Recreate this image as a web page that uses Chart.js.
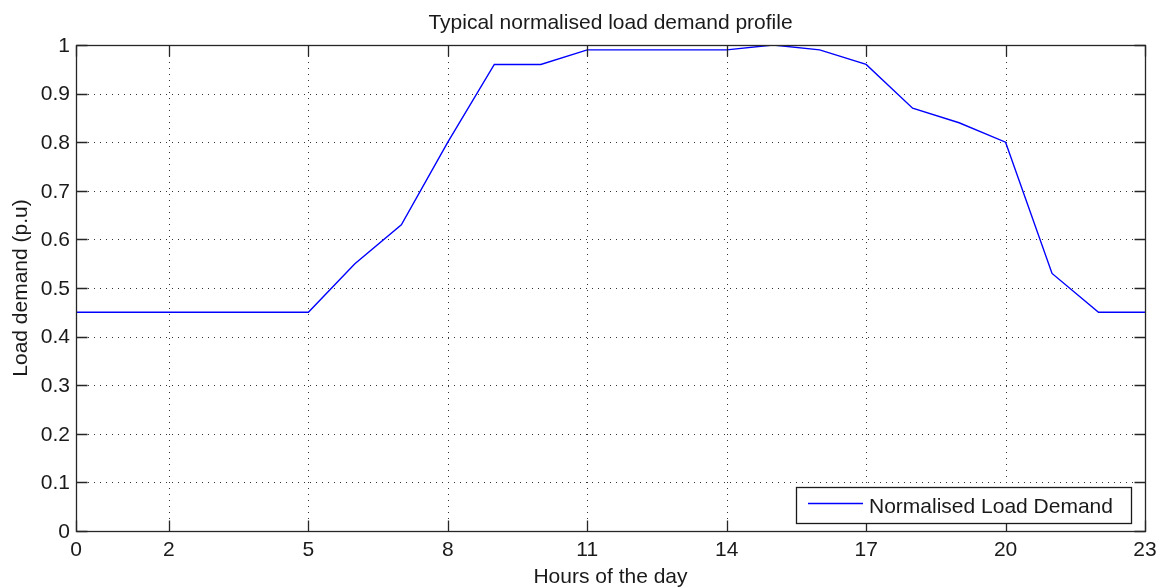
<!DOCTYPE html>
<html>
<head>
<meta charset="utf-8">
<title>Typical normalised load demand profile</title>
<script src="https://cdn.jsdelivr.net/npm/chart.js@4.4.1/dist/chart.umd.min.js"></script>
<style>
  html, body { margin: 0; padding: 0; background: #fff; }
  #wrap { width: 1162px; height: 588px; }
</style>
</head>
<body>
<div id="wrap"><canvas id="chart" width="1162" height="588"></canvas></div>
<script>
// Hour of the day and the normalised load demand (per unit) at each hour
const hours = [0, 1, 2, 3, 4, 5, 6, 7, 8, 9, 10, 11, 12, 13, 14, 15, 16, 17, 18, 19, 20, 21, 22, 23];
const loadDemand = [0.45, 0.45, 0.45, 0.45, 0.45, 0.45, 0.55, 0.63, 0.80, 0.96, 0.96, 0.99,
                    0.99, 0.99, 0.99, 1.00, 0.99, 0.96, 0.87, 0.84, 0.80, 0.53, 0.45, 0.45];
const xTickValues = [0, 2, 5, 8, 11, 14, 17, 20, 23];
const yTickValues = [0, 0.1, 0.2, 0.3, 0.4, 0.5, 0.6, 0.7, 0.8, 0.9, 1];

const chartTitle = 'Typical normalised load demand profile';
const xTitle = 'Hours of the day';
const yTitle = 'Load demand (p.u)';
const seriesName = 'Normalised Load Demand';

const FONT = '21px "Liberation Sans", Arial, Helvetica, sans-serif';
const TEXT = '#1a1a1a';
const LINE_BLUE = '#0000ff';

function fmtY(v) {
  const r = Math.round(v * 10) / 10;
  return r === 0 ? '0' : r === 1 ? '1' : String(r);
}

// MATLAB-style axes: dotted grid, boxed frame, inward ticks, labels and an in-plot legend
const matlabAxes = {
  id: 'matlabAxes',
  beforeDatasetsDraw(chart) {
    const { ctx, chartArea: a, scales } = chart;
    ctx.save();
    ctx.strokeStyle = '#333';
    ctx.lineWidth = 1;
    ctx.setLineDash([1, 5]);
    xTickValues.forEach(v => {
      const x = Math.round(scales.x.getPixelForValue(v)) + 0.5;
      ctx.beginPath(); ctx.moveTo(x, a.bottom); ctx.lineTo(x, a.top); ctx.stroke();
    });
    yTickValues.forEach(v => {
      const y = Math.round(scales.y.getPixelForValue(v)) + 0.5;
      ctx.beginPath(); ctx.moveTo(a.left, y); ctx.lineTo(a.right, y); ctx.stroke();
    });
    ctx.restore();
  },
  afterDatasetsDraw(chart) {
    const { ctx, chartArea: a, scales } = chart;
    const L = Math.round(a.left) + 0.5, R = Math.round(a.right) + 0.5;
    const T = Math.round(a.top) + 0.5, B = Math.round(a.bottom) + 0.5;
    ctx.save();
    // frame
    ctx.strokeStyle = '#262626';
    ctx.lineWidth = 1.3;
    ctx.setLineDash([]);
    ctx.strokeRect(L, T, R - L, B - T);
    // inward ticks on all four sides
    const tk = 11;
    ctx.beginPath();
    xTickValues.forEach(v => {
      const x = Math.round(scales.x.getPixelForValue(v)) + 0.5;
      ctx.moveTo(x, B); ctx.lineTo(x, B - tk);
      ctx.moveTo(x, T); ctx.lineTo(x, T + tk);
    });
    yTickValues.forEach(v => {
      const y = Math.round(scales.y.getPixelForValue(v)) + 0.5;
      ctx.moveTo(L, y); ctx.lineTo(L + tk, y);
      ctx.moveTo(R, y); ctx.lineTo(R - tk, y);
    });
    ctx.stroke();

    // tick labels
    ctx.fillStyle = TEXT;
    ctx.font = FONT;
    ctx.textAlign = 'center';
    ctx.textBaseline = 'alphabetic';
    xTickValues.forEach(v => {
      ctx.fillText(String(v), scales.x.getPixelForValue(v), a.bottom + 25);
    });
    ctx.textAlign = 'right';
    ctx.textBaseline = 'middle';
    yTickValues.forEach(v => {
      ctx.fillText(fmtY(v), a.left - 6, scales.y.getPixelForValue(v) + 1);
    });

    // titles
    ctx.textAlign = 'center';
    ctx.textBaseline = 'alphabetic';
    ctx.fillText(chartTitle, (a.left + a.right) / 2, 29);
    ctx.fillText(xTitle, (a.left + a.right) / 2, 583);
    ctx.save();
    ctx.translate(27, (a.top + a.bottom) / 2);
    ctx.rotate(-Math.PI / 2);
    ctx.fillText(yTitle, 0, 0);
    ctx.restore();

    // legend box, lower right
    const bx = 796.5, by = 487.5, bw = 335, bh = 36;
    ctx.fillStyle = '#fff';
    ctx.fillRect(bx, by, bw, bh);
    ctx.strokeStyle = '#1a1a1a';
    ctx.lineWidth = 1.3;
    ctx.strokeRect(bx, by, bw, bh);
    ctx.strokeStyle = LINE_BLUE;
    ctx.lineWidth = 1.3;
    ctx.beginPath(); ctx.moveTo(808, by + 16); ctx.lineTo(863, by + 16); ctx.stroke();
    ctx.fillStyle = TEXT;
    ctx.textAlign = 'left';
    ctx.textBaseline = 'alphabetic';
    ctx.fillText(seriesName, 869, by + 25);
    ctx.restore();
  }
};

new Chart(document.getElementById('chart'), {
  type: 'line',
  data: {
    datasets: [{
      label: seriesName,
      data: hours.map((h, i) => ({ x: h, y: loadDemand[i] })),
      borderColor: LINE_BLUE,
      borderWidth: 1.4,
      pointRadius: 0,
      tension: 0,
      fill: false
    }]
  },
  options: {
    responsive: false,
    animation: false,
    devicePixelRatio: 1,
    layout: { padding: { left: 76, right: 17, top: 45, bottom: 57 } },
    plugins: { legend: { display: false }, title: { display: false }, tooltip: { enabled: false } },
    scales: {
      x: {
        type: 'linear', min: 0, max: 23,
        afterBuildTicks: s => { s.ticks = xTickValues.map(v => ({ value: v })); },
        afterFit: s => { s.height = 0; },
        grid: { display: false, drawTicks: false },
        border: { display: false },
        ticks: { display: false }
      },
      y: {
        type: 'linear', min: 0, max: 1,
        afterBuildTicks: s => { s.ticks = yTickValues.map(v => ({ value: v })); },
        afterFit: s => { s.width = 0; },
        grid: { display: false, drawTicks: false },
        border: { display: false },
        ticks: { display: false }
      }
    }
  },
  plugins: [matlabAxes]
});
</script>
</body>
</html>
